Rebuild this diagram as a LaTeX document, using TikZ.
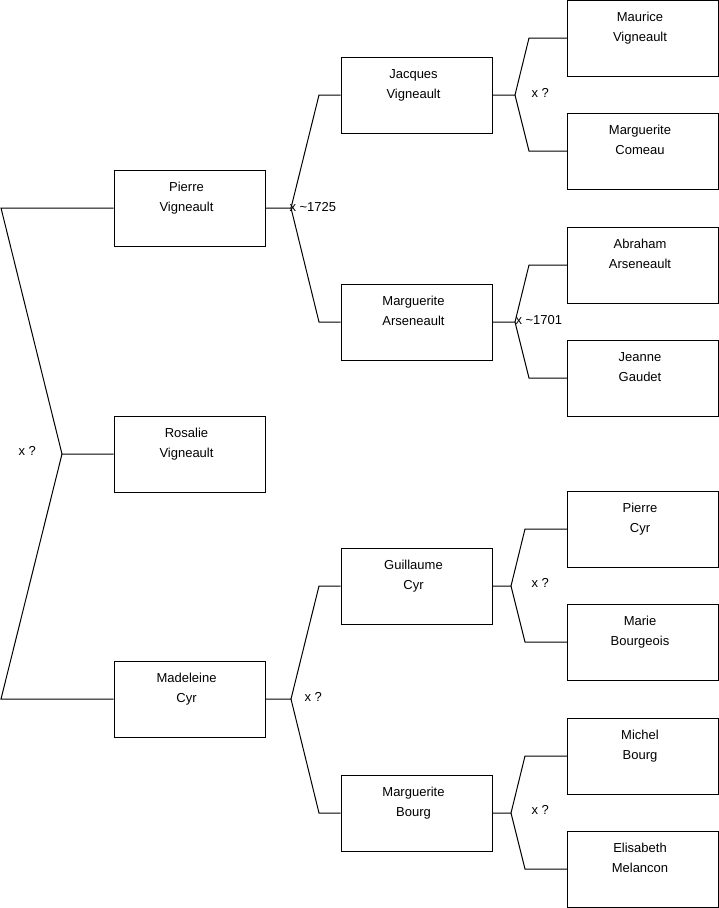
\documentclass[tikz,border=0pt]{standalone}
\usepackage{fontspec}
\setmainfont{Liberation Sans}
\newcommand\personbox[5]{%
  \node[pbox] (#1) at (#2,#3) {};
  \node[ptext] (#1-a) at (#2-3,#3-17) {#4};
  \node[ptext] (#1-b) at (#2-3,#3+3) {#5};
}
\begin{document}
\begin{tikzpicture}[x=1pt,y=-1pt,line width=1pt,
  pbox/.style={draw=black, line width=1pt, minimum width=151pt, minimum height=76pt, inner sep=0pt},
  ptext/.style={anchor=base, inner sep=0pt, font=\fontsize{13}{15}\selectfont},
  conn/.style={draw=black, line width=1pt},
  lbl/.style={anchor=west, inner sep=0pt, font=\fontsize{13}{15}\selectfont}]
\useasboundingbox (0,0) rectangle (719,908);

% column 1
\personbox{pierre}{189.5}{208}{Pierre}{Vigneault}
\personbox{rosalie}{189.5}{454}{Rosalie}{Vigneault}
\personbox{madeleine}{189.5}{699}{Madeleine}{Cyr}
% column 2
\personbox{jacques}{416.5}{95}{Jacques}{Vigneault}
\personbox{marga}{416.5}{322}{Marguerite}{Arseneault}
\personbox{guillaume}{416.5}{586}{Guillaume}{Cyr}
\personbox{margb}{416.5}{813}{Marguerite}{Bourg}
% column 3
\personbox{maurice}{643}{38}{Maurice}{Vigneault}
\personbox{comeau}{643}{151}{Marguerite}{Comeau}
\personbox{abraham}{643}{265}{Abraham}{Arseneault}
\personbox{jeanne}{643}{378}{Jeanne}{Gaudet}
\personbox{pcyr}{643}{529}{Pierre}{Cyr}
\personbox{marie}{643}{642}{Marie}{Bourgeois}
\personbox{michel}{643}{756}{Michel}{Bourg}
\personbox{elisabeth}{643}{869}{Elisabeth}{Melancon}

% left fork
\coordinate (lt) at (1,208);
\coordinate (lm) at (62,454);
\coordinate (lb) at (1,699);
\draw[conn] (pierre.west) -- (lt) -- (lm) -- (rosalie.west);
\draw[conn] (lm) -- (lb) -- (madeleine.west);
\node[lbl] (l0) at (18,451) {x ?};

% Pierre's parents
\coordinate (pv) at (291,208);
\coordinate (pu) at (319,95);
\coordinate (pd) at (319,322);
\draw[conn] (pierre.east) -- (pv) -- (pu) -- (jacques.west);
\draw[conn] (pv) -- (pd) -- (marga.west);
\node[lbl] (l1) at (289,207) {x \textasciitilde1725};

% Madeleine's parents
\coordinate (mv) at (291,699);
\coordinate (mu) at (319,586);
\coordinate (md) at (319,813);
\draw[conn] (madeleine.east) -- (mv) -- (mu) -- (guillaume.west);
\draw[conn] (mv) -- (md) -- (margb.west);
\node[lbl] (l2) at (304,697) {x ?};

% Jacques's parents
\coordinate (jv) at (515,95);
\coordinate (ju) at (529,38);
\coordinate (jd) at (529,151);
\draw[conn] (jacques.east) -- (jv) -- (ju) -- (maurice.west);
\draw[conn] (jv) -- (jd) -- (comeau.west);
\node[lbl] (l3) at (531,93) {x ?};

% Marguerite Arseneault's parents
\coordinate (av) at (515,322);
\coordinate (au) at (529,265);
\coordinate (ad) at (529,378);
\draw[conn] (marga.east) -- (av) -- (au) -- (abraham.west);
\draw[conn] (av) -- (ad) -- (jeanne.west);
\node[lbl] (l4) at (515,320) {x \textasciitilde1701};

% Guillaume's parents
\coordinate (gv) at (511,586);
\coordinate (gu) at (525,529);
\coordinate (gd) at (525,642);
\draw[conn] (guillaume.east) -- (gv) -- (gu) -- (pcyr.west);
\draw[conn] (gv) -- (gd) -- (marie.west);
\node[lbl] (l5) at (531,583) {x ?};

% Marguerite Bourg's parents
\coordinate (bv) at (511,813);
\coordinate (bu) at (525,756);
\coordinate (bd) at (525,869);
\draw[conn] (margb.east) -- (bv) -- (bu) -- (michel.west);
\draw[conn] (bv) -- (bd) -- (elisabeth.west);
\node[lbl] (l6) at (531,810) {x ?};
\end{tikzpicture}
\end{document}
